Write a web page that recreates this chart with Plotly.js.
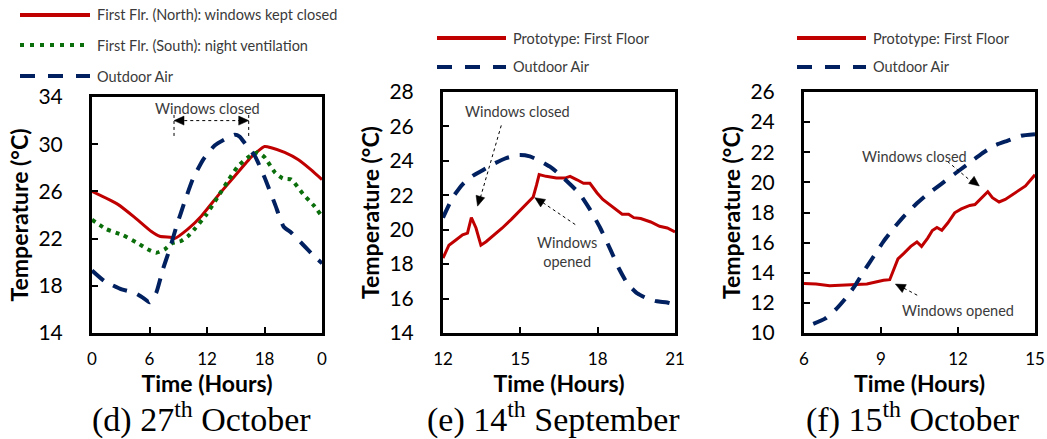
<!DOCTYPE html>
<html>
<head>
<meta charset="utf-8">
<script src="https://cdn.plot.ly/plotly-3.0.1.min.js"></script>
<style>html,body{margin:0;padding:0;background:#fff;}#chart{width:1047px;height:439px;}</style>
</head>
<body>
<div id="chart"></div>
<script>
// ---------- Data ----------
// (d) 27th October
const d_north_hours = [0, 2.7, 4.45, 6.2, 7.06, 8.3, 8.6, 10.0, 11.4, 13.1, 14.9, 16.6, 17.3, 18.0, 18.7, 20.1, 21.5, 22.9, 24];
const d_north_temp  = [26.0, 24.9, 23.8, 22.6, 22.2, 22.1, 22.0, 22.8, 23.9, 25.6, 27.3, 28.9, 29.4, 29.8, 29.7, 29.3, 28.7, 27.8, 27.0];
const d_south_hours = [0, 1.5, 3.2, 4.8, 5.8, 6.7, 7.6, 8.35, 9.3, 10.0, 10.7, 11.9, 13.1, 14.2, 15.2, 16.3, 17.3, 18.0, 19.1, 19.9, 20.8, 22.0, 23.2, 23.9];
const d_south_temp  = [23.6, 22.8, 22.3, 21.6, 21.1, 20.8, 21.1, 21.6, 21.8, 22.2, 22.8, 24.0, 25.5, 26.9, 28.1, 28.9, 29.3, 28.9, 27.6, 27.1, 27.0, 25.8, 24.75, 24.0];
const d_out_hours   = [0, 1.3, 3.1, 4.45, 5.3, 6.0, 6.7, 7.4, 8.1, 8.8, 9.7, 10.5, 11.6, 12.8, 13.8, 14.9, 15.4, 16.3, 17.0, 18.0, 19.1, 20.0, 20.8, 22.0, 23.2, 24];
const d_out_temp    = [19.3, 18.4, 17.7, 17.4, 17.0, 16.6, 17.4, 19.4, 21.1, 23.0, 25.2, 27.0, 28.7, 29.9, 30.4, 30.8, 30.65, 29.7, 29.0, 27.2, 24.9, 23.0, 22.5, 21.5, 20.5, 19.9];

// (e) 14th September
const e_proto_hours = [12.0, 12.23, 12.5, 12.76, 12.95, 13.1, 13.28, 13.47, 13.67, 14.0, 14.3, 14.65, 14.97, 15.3, 15.5, 15.63, 15.73, 16.0, 16.4, 16.73, 16.93, 17.2, 17.45, 17.7, 17.97, 18.2, 18.5, 18.76, 18.95, 19.2, 19.4, 19.67, 20.06, 20.4, 20.7, 21.0];
const e_proto_temp  = [18.35, 19.1, 19.4, 19.7, 19.8, 20.7, 20.1, 19.1, 19.3, 19.7, 20.1, 20.6, 21.1, 21.6, 21.9, 22.6, 23.2, 23.1, 23.0, 23.0, 23.1, 22.9, 22.7, 22.7, 22.15, 21.76, 21.4, 21.1, 20.9, 20.9, 20.7, 20.65, 20.45, 20.2, 20.1, 19.87];
const e_out_hours   = [12.0, 12.37, 12.76, 13.15, 13.54, 13.93, 14.45, 14.97, 15.37, 15.76, 16.15, 16.54, 16.93, 17.32, 17.7, 18.1, 18.5, 18.82, 19.15, 19.54, 19.93, 20.3, 20.7, 21.0];
const e_out_temp    = [20.7, 21.86, 22.64, 23.13, 23.46, 23.8, 24.16, 24.34, 24.26, 24.0, 23.66, 23.19, 22.64, 22.05, 21.18, 20.1, 18.83, 17.76, 16.88, 16.3, 16.0, 15.84, 15.77, 15.65];

// (f) 15th October
const f_proto_hours = [6.0, 6.47, 7.0, 7.53, 8.05, 8.45, 8.84, 9.1, 9.34, 9.5, 9.66, 9.9, 10.16, 10.4, 10.58, 10.82, 11.0, 11.18, 11.37, 11.6, 11.87, 12.13, 12.46, 12.66, 12.92, 13.16, 13.34, 13.6, 13.84, 14.24, 14.63, 15.0];
const f_proto_temp  = [13.29, 13.25, 13.14, 13.18, 13.18, 13.25, 13.4, 13.5, 13.54, 14.18, 14.92, 15.3, 15.75, 16.04, 15.75, 16.3, 16.8, 17.0, 16.82, 17.3, 17.98, 18.24, 18.47, 18.53, 18.98, 19.38, 18.98, 18.7, 18.87, 19.3, 19.76, 20.5];
const f_out_hours   = [6.36, 6.82, 7.27, 7.67, 8.0, 8.32, 8.71, 9.1, 9.5, 9.89, 10.35, 10.8, 11.33, 11.85, 12.37, 12.9, 13.42, 13.94, 14.46, 15.0];
const f_out_temp    = [10.6, 10.95, 11.62, 12.4, 13.18, 14.07, 15.08, 16.08, 16.97, 17.75, 18.53, 19.2, 19.87, 20.54, 21.2, 21.88, 22.44, 22.77, 23.1, 23.2];

// Tick labels
const d_xticks = [0, 6, 12, 18, 24];
const d_xticktext = ['0', '6', '12', '18', '0'];
const e_xticks = [12, 15, 18, 21];
const f_xticks = [6, 9, 12, 15];

// Series names / captions
const d_names = ['First Flr. (North): windows kept closed', 'First Flr. (South): night ventilation', 'Outdoor Air'];
const ef_names = ['Prototype: First Floor', 'Outdoor Air'];
const captions = ['(d) 27<sup>th</sup> October', '(e) 14<sup>th</sup> September', '(f) 15<sup>th</sup> October'];

// ---------- Styles ----------
const W = 1047, H = 439;
const RED = '#c00000', BLUE = '#002060', GREEN = '#0a6e0a';
const TXT = '#3a3a3a';
const px = x => x / W;
const py = y => 1 - y / H;

const redLine = {color: RED, width: 3};
const blueLine = {color: BLUE, width: 4, dash: '15px,11px'};
const greenLine = {color: GREEN, width: 4, dash: '4px,5px'};

const traces = [
  {x: d_north_hours, y: d_north_temp, name: d_names[0], mode: 'lines', line: Object.assign({shape: 'spline', smoothing: 0.5}, redLine), xaxis: 'x', yaxis: 'y'},
  {x: d_south_hours, y: d_south_temp, name: d_names[1], mode: 'lines', line: Object.assign({shape: 'spline', smoothing: 0.5}, greenLine), xaxis: 'x', yaxis: 'y'},
  {x: d_out_hours, y: d_out_temp, name: d_names[2], mode: 'lines', line: Object.assign({shape: 'spline', smoothing: 0.5}, blueLine), xaxis: 'x', yaxis: 'y'},
  {x: e_proto_hours, y: e_proto_temp, name: ef_names[0], mode: 'lines', line: redLine, xaxis: 'x2', yaxis: 'y2'},
  {x: e_out_hours, y: e_out_temp, name: ef_names[1], mode: 'lines', line: Object.assign({shape: 'spline', smoothing: 0.5}, blueLine), xaxis: 'x2', yaxis: 'y2'},
  {x: f_proto_hours, y: f_proto_temp, name: ef_names[0], mode: 'lines', line: redLine, xaxis: 'x3', yaxis: 'y3'},
  {x: f_out_hours, y: f_out_temp, name: ef_names[1], mode: 'lines', line: Object.assign({shape: 'spline', smoothing: 0.5}, blueLine), xaxis: 'x3', yaxis: 'y3'}
];
traces.forEach(t => { t.showlegend = false; t.hoverinfo = 'skip'; });

const tickFontY = {family: 'Lato, sans-serif', size: 21, color: '#000'};
const tickFontX = {family: 'Lato, sans-serif', size: 17, color: '#000'};
const titleFont = {family: 'Lato, sans-serif', size: 23, color: '#000', weight: 'bold'};

function xax(domain, range, tickvals, ticktext) {
  return {
    domain: domain, range: range, tickmode: 'array', tickvals: tickvals, ticktext: ticktext || tickvals.map(String),
    showgrid: false, zeroline: false, showline: true, linecolor: '#000', linewidth: 3, mirror: true,
    ticks: 'inside', ticklen: 6, tickwidth: 2, tickcolor: '#000', tickfont: tickFontX,
    ticklabelstandoff: 9, fixedrange: true,
    title: {text: '<b>Time (Hours)</b>', font: titleFont, standoff: 0}
  };
}
function yax(domain, range, dtick, anchor) {
  return {
    domain: domain, range: range, dtick: dtick, tick0: range[0], anchor: anchor,
    showgrid: false, zeroline: false, showline: true, linecolor: '#000', linewidth: 3, mirror: true,
    ticks: 'inside', ticklen: 6, tickwidth: 2, tickcolor: '#000', tickfont: tickFontY,
    ticklabelstandoff: 22, fixedrange: true,
    title: {text: '<b>Temperature (°C)</b>', font: titleFont, standoff: 4}
  };
}

const yDom1 = [py(333), py(97)];
const yDom2 = [py(333), py(92)];

const layout = {
  width: W, height: H,
  margin: {l: 0, r: 0, t: 0, b: 0},
  paper_bgcolor: '#fff', plot_bgcolor: '#fff',
  font: {family: 'Lato, sans-serif', color: '#000'},
  showlegend: false,
  xaxis: Object.assign(xax([px(92), px(322)], [0, 24], d_xticks, d_xticktext), {anchor: 'y'}),
  yaxis: yax(yDom1, [14, 34], 4, 'x'),
  xaxis2: Object.assign(xax([px(443), px(675)], [12, 21], e_xticks), {anchor: 'y2'}),
  yaxis2: yax(yDom2, [14, 28], 2, 'x2'),
  xaxis3: Object.assign(xax([px(804), px(1035)], [6, 15], f_xticks), {anchor: 'y3'}),
  yaxis3: yax(yDom2, [10, 26], 2, 'x3'),
  shapes: [],
  annotations: []
};

// ---------- Manual legends ----------
function legendRow(x0, x1, y, line, text) {
  layout.shapes.push({type: 'line', xref: 'paper', yref: 'paper', x0: px(x0), x1: px(x1), y0: py(y), y1: py(y), line: line});
  layout.annotations.push({xref: 'paper', yref: 'paper', x: px(x1 + 5), y: py(y), xanchor: 'left', yanchor: 'middle',
    text: text, showarrow: false, font: {family: 'Lato, sans-serif', size: 14.5, color: TXT}});
}
legendRow(20, 90, 15, {color: RED, width: 4}, d_names[0]);
legendRow(20, 90, 45, {color: GREEN, width: 4, dash: '4px,6px'}, d_names[1]);
legendRow(20, 90, 76, {color: BLUE, width: 4, dash: '15px,13px'}, d_names[2]);
legendRow(437, 506, 38, {color: RED, width: 4}, ef_names[0]);
legendRow(437, 506, 67, {color: BLUE, width: 4, dash: '15px,13px'}, ef_names[1]);
legendRow(797, 866, 38, {color: RED, width: 4}, ef_names[0]);
legendRow(797, 866, 67, {color: BLUE, width: 4, dash: '15px,13px'}, ef_names[1]);

// ---------- In-plot annotations ----------
const noteFont = {family: 'Lato, sans-serif', size: 14.5, color: TXT};
function note(ax, x, y, text) {
  layout.annotations.push({xref: 'x' + ax, yref: 'y' + ax, x: x, y: y, text: text, showarrow: false, font: noteFont, xanchor: 'center', yanchor: 'middle'});
}
function dotted(ax, x0, y0, x1, y1) {
  layout.shapes.push({type: 'line', xref: 'x' + ax, yref: 'y' + ax, x0: x0, y0: y0, x1: x1, y1: y1, line: {color: '#000', width: 1, dash: 'dot'}});
}
// arrowhead: filled triangle anchored at tip (x,y); (ux,uy) = pixel direction (y up) pointing back toward the tail
function head(ax, x, y, ux, uy) {
  const L = 10, w = 4.5;
  const nx = -uy, ny = ux;
  const b1x = L * ux + w * nx, b1y = L * uy + w * ny;
  const b2x = L * ux - w * nx, b2y = L * uy - w * ny;
  layout.shapes.push({type: 'path', xref: 'x' + ax, yref: 'y' + ax, xsizemode: 'pixel', ysizemode: 'pixel',
    xanchor: x, yanchor: y,
    path: `M0,0 L${b1x.toFixed(2)},${b1y.toFixed(2)} L${b2x.toFixed(2)},${b2y.toFixed(2)} Z`,
    fillcolor: '#000', line: {color: '#000', width: 0.5}});
}
// (d)
note('', 12.03, 33.05, 'Windows closed');
dotted('', 8.56, 30.7, 8.56, 32.55);
dotted('', 16.35, 30.7, 16.35, 32.55);
dotted('', 9.0, 32.0, 15.9, 32.0);
head('', 8.56, 32.0, 1, 0);
head('', 16.35, 32.0, -1, 0);
// (e)
note('2', 14.9, 26.84, 'Windows closed');
dotted('2', 14.26, 26.06, 13.4, 21.6);
head('2', 13.34, 21.37, 0.282, 0.96);
note('2', 16.8, 18.7, 'Windows<br>opened');
dotted('2', 17.13, 20.3, 15.7, 21.75);
head('2', 15.56, 21.86, 0.833, -0.551);
// (f)
note('3', 10.3, 21.7, 'Windows closed');
dotted('3', 11.59, 21.39, 12.6, 19.95);
head('3', 12.83, 19.76, -0.793, 0.609);
note('3', 12.0, 11.5, 'Windows opened');
dotted('3', 10.41, 12.51, 9.75, 13.1);
head('3', 9.56, 13.25, 0.89, -0.453);

// ---------- Captions ----------
const capX = [201, 553, 913];
captions.forEach((c, i) => {
  layout.annotations.push({xref: 'paper', yref: 'paper', x: px(capX[i]), y: py(417), xanchor: 'center', yanchor: 'middle',
    text: c, showarrow: false, font: {family: '"Liberation Serif", "Times New Roman", serif', size: 34, color: '#000'}});
});

Plotly.newPlot('chart', traces, layout, {staticPlot: true, displayModeBar: false});
</script>
</body>
</html>
